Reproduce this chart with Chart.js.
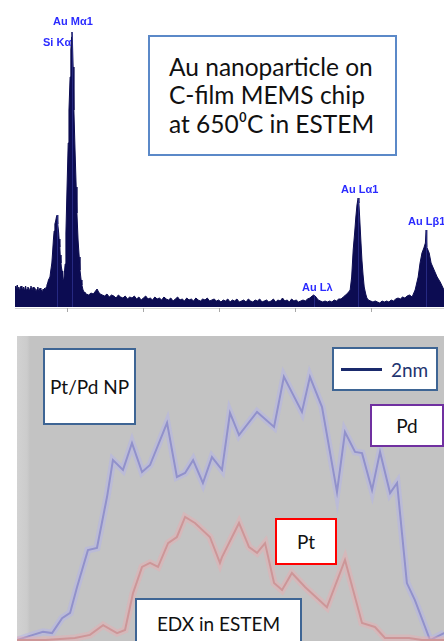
<!DOCTYPE html>
<html><head><meta charset="utf-8">
<script src="https://cdn.jsdelivr.net/npm/chart.js@4.4.1/dist/chart.umd.min.js"></script>
<style>
body{margin:0;width:444px;height:641px;position:relative;overflow:hidden;background:#fff;font-family:Lato,"Open Sans",sans-serif}
.pk{position:absolute;color:#2b2bff;font:bold 11px "Liberation Sans",Arial,sans-serif;white-space:nowrap;line-height:12px}
.box{position:absolute;background:#fff;box-sizing:border-box;display:flex;align-items:center;justify-content:center;color:#111;font-size:19px;border:2px solid #3e6594}
</style></head><body>
<canvas id="spectrum" width="444" height="312" style="position:absolute;left:0;top:0"></canvas>
<div style="position:absolute;left:17px;top:336px;width:427px;height:305px;background:linear-gradient(to right,#d2d2d2 0,#cccccc 10px,#c3c3c3 13px,#c3c3c3 100%)">
  <canvas id="profile" width="427" height="305"></canvas>
</div>

<div class="pk" style="left:53px;top:15px">Au Mα1</div>
<div class="pk" style="left:43px;top:36px">Si Kα</div>
<div class="pk" style="left:341px;top:183px">Au Lα1</div>
<div class="pk" style="left:408px;top:215px">Au Lβ1</div>
<div class="pk" style="left:302px;top:281px">Au Lλ</div>

<div class="box" style="left:148px;top:35px;width:249px;height:121px;border-color:#5b89c8;justify-content:flex-start;padding-left:19px;font-size:24.5px;line-height:28.5px">
  <div>Au nanoparticle on<br>C-film MEMS chip<br>at 650⁰C in ESTEM</div>
</div>

<div class="box" style="left:43px;top:348px;width:93px;height:77px">Pt/Pd NP</div>
<div class="box" style="left:332px;top:347px;width:106px;height:44px;justify-content:flex-start;color:#1f3470">
  <span style="display:inline-block;width:41px;height:3px;background:#1a2a6c;margin-left:7px;margin-right:9px"></span>2nm
</div>
<div class="box" style="left:370px;top:404px;width:74px;height:43px;border-color:#7030a0">Pd</div>
<div class="box" style="left:275px;top:518px;width:62px;height:47px;border-color:#ff0000">Pt</div>
<div class="box" style="left:135px;top:598px;width:167px;height:60px;align-items:flex-start;padding-top:12px">EDX in ESTEM</div>

<script>
// EDX spectrum (energy in keV, counts)
const energies = [
  0.62,0.64,0.66,0.68,0.70,0.72,0.74,0.76,0.78,0.80,0.82,0.84,0.86,0.88,0.90,0.92,0.94,0.96,0.98,1.00,
  1.02,1.04,1.06,1.08,1.10,1.12,1.14,1.16,1.18,1.20,1.22,1.24,1.26,1.28,1.30,1.32,1.34,1.36,1.38,1.40,
  1.42,1.44,1.46,1.48,1.50,
  1.54,1.56,1.59,1.61,1.63,1.65,1.67,1.69,1.71,1.73,1.74,1.75,1.77,1.78,1.80,1.81,1.83,1.84,1.86,1.87,1.88,1.90,1.91,
  1.94,1.96,1.99,2.02,2.04,2.07,2.09,2.11,2.12,2.13,2.15,2.17,2.20,2.23,2.25,2.28,2.31,2.33,2.36,2.38,2.41,2.44,2.46,
  2.50,2.56,2.62,2.68,2.74,2.78,2.82,2.86,2.92,2.98,3.04,3.10,3.16,3.22,3.28,3.34,3.40,3.46,3.52,3.58,
  3.64,3.70,3.76,3.82,3.88,3.94,4.00,4.06,4.12,4.18,4.24,4.30,4.36,4.42,4.48,4.54,4.60,4.66,4.72,4.78,
  4.84,4.90,4.96,5.02,5.08,5.14,5.20,5.26,5.32,5.38,5.44,5.50,5.56,5.62,5.68,5.74,5.80,5.86,5.92,5.98,6.04,
  6.10,6.16,6.22,6.28,6.34,6.40,6.46,6.52,6.58,6.64,6.70,6.76,6.82,6.88,6.94,7.00,7.06,7.12,7.18,7.24,
  7.30,7.36,7.42,7.48,7.54,7.60,7.66,7.72,7.78,7.84,7.90,7.96,8.02,8.08,8.14,8.20,8.26,8.32,8.38,8.44,
  8.48,8.52,8.56,8.60,8.66,8.72,8.78,8.84,8.90,8.96,9.02,9.08,9.14,9.20,9.26,9.32,9.38,9.44,9.48,9.52,
  9.56,9.59,9.62,9.65,9.67,9.69,9.72,9.75,9.78,9.81,9.85,9.88,9.92,9.98,10.04,10.10,10.16,10.22,10.28,10.34,
  10.40,10.46,10.52,10.58,10.64,10.70,10.76,10.82,10.88,10.94,11.00,11.04,11.07,11.15,11.23,11.28,11.33,11.38,11.42,11.44,
  11.45,11.46,11.52,11.57,11.65,11.73,11.81,11.91
];
const counts = [
  21,17,19,22,18,20,16,19,21,17,18,20,17,19,21,16,18,20,18,16,
  19,21,17,18,20,16,19,17,15,18,20,16,17,19,15,17,14,18,16,19,
  17,20,22,24,27,
  30,36,44,55,67,76,83,86,90,92,88,83,74,68,60,52,44,40,36,31,28,27,30,
  43,74,120,164,197,230,257,270,275,268,240,197,157,120,94,67,50,37,27,22,17,15,14,
  13,12,14,13,16,18,15,13,12,11,13,10,12,11,9,12,10,9,11,8,
  10,9,11,8,10,7,9,11,8,9,7,10,8,9,7,10,8,7,9,6,
  8,10,7,8,6,9,7,8,6,9,7,6,8,7,9,6,7,8,6,7,5,
  7,6,8,5,7,6,8,5,6,7,5,8,6,5,7,6,8,5,6,7,
  5,6,8,5,7,6,9,6,7,5,8,6,7,5,6,7,6,8,9,11,
  12,11,9,7,6,5,6,5,6,5,7,6,8,8,10,12,14,17,30,57,
  75,90,102,109,104,90,68,47,32,20,13,9,7,6,5,6,5,4,6,5,
  6,5,7,6,8,9,8,10,9,11,12,11,10,17,30,44,54,59,64,77,
  66,60,54,44,37,30,25,17
];
const peakNames = ['Si Kα','Au Mα1','Au Lλ','Au Lα1','Au Lβ1'];
const peakEnergies = [1.73,2.12,8.48,9.65,11.44];
const peakCounts = [92,275,12,109,77];
const tickEnergies = [2,4,6,8,10];

// line profile across the particle (position in nm, intensity)
const pdPos = [0,0.78,1.27,1.71,2.20,2.59,2.93,3.46,3.90,4.39,4.68,5.17,5.61,6.10,6.49,7.32,7.80,8.20,8.59,9.07,
  9.51,10.0,10.39,10.83,11.71,12.54,13.02,13.90,14.29,14.88,15.61,16.0,16.49,16.83,17.32,17.71,18.20,18.54,19.02,19.41,20.15,20.83];
const pdVal = [0.3,2.0,3.0,2.6,7.5,9.2,17.7,29.8,30.5,47.2,59.3,56.1,64.9,55.4,57.7,71.5,53.8,55.1,59.3,51.8,
  60.3,56.1,74.8,67.5,75.1,70.2,86.6,75.1,86.6,76.7,48.9,68.5,62.0,61.6,49.5,62.0,48.5,51.8,19.0,13.4,0.3,2.6];
const ptPos = [0,1.37,2.83,3.56,4.20,4.88,5.27,5.66,6.10,6.49,6.88,7.37,7.80,8.20,8.68,9.41,9.90,10.0,10.83,11.32,
  11.71,12.10,12.54,12.93,13.41,14.05,15.12,16.0,16.83,17.46,17.95,19.12,19.76,20.83];
const ptVal = [0.3,0.3,1.0,2.0,5.2,2.6,3.6,15.7,24.3,25.6,24.3,32.1,34.1,40.7,38.7,34.1,25.6,27.5,38.7,30.8,
  28.9,32.1,19.0,16.7,22.3,17.7,11.1,26.6,5.9,4.6,1.0,1.0,0.3,0.3];

const toXY = (xs, ys) => xs.map((x, i) => ({x: x, y: ys[i]}));

const spectrumAxis = {
  id: 'spectrumAxis',
  afterDatasetsDraw(chart) {
    const ctx = chart.ctx, xs = chart.scales.x, ys = chart.scales.y, a = chart.chartArea;
    ctx.save();
    ctx.strokeStyle = 'rgba(60,65,170,0.55)';
    ctx.lineWidth = 1;
    peakEnergies.forEach((e, i) => {
      const px = Math.round(xs.getPixelForValue(e)) + 0.5;
      ctx.beginPath();
      ctx.moveTo(px, a.bottom);
      ctx.lineTo(px, ys.getPixelForValue(peakCounts[i]));
      ctx.stroke();
    });
    ctx.strokeStyle = '#d4d4d4';
    ctx.beginPath();
    ctx.moveTo(a.left, a.bottom + 1.5);
    ctx.lineTo(a.right, a.bottom + 1.5);
    ctx.stroke();
    ctx.strokeStyle = '#a8a8a8';
    tickEnergies.forEach(e => {
      const px = Math.round(xs.getPixelForValue(e)) + 0.5;
      ctx.beginPath();
      ctx.moveTo(px, a.bottom + 1);
      ctx.lineTo(px, a.bottom + 5);
      ctx.stroke();
    });
    ctx.restore();
  }
};

new Chart(document.getElementById('spectrum'), {
  type: 'line',
  data: {
    datasets: [{
      data: toXY(energies, counts),
      fill: 'origin',
      backgroundColor: '#0c0c52',
      borderColor: '#0c0c52',
      borderWidth: 1,
      pointRadius: 0,
      tension: 0
    }]
  },
  options: {
    responsive: false,
    animation: false,
    layout: {padding: {left: 15, top: 7, right: 0, bottom: 5}},
    plugins: {legend: {display: false}, tooltip: {enabled: false}},
    scales: {
      x: {type: 'linear', min: 0.62, max: 11.91, display: false},
      y: {min: 0, max: 300, display: false}
    }
  },
  plugins: [spectrumAxis]
});

new Chart(document.getElementById('profile'), {
  type: 'line',
  data: {
    datasets: [
      {data: toXY(ptPos, ptVal), borderColor: 'rgba(235,170,175,0.45)', borderWidth: 7, pointRadius: 0, tension: 0},
      {data: toXY(ptPos, ptVal), borderColor: '#b48686', borderWidth: 2, pointRadius: 0, tension: 0},
      {data: toXY(pdPos, pdVal), borderColor: 'rgba(180,180,235,0.5)', borderWidth: 7, pointRadius: 0, tension: 0},
      {data: toXY(pdPos, pdVal), borderColor: '#6e6eaa', borderWidth: 2, pointRadius: 0, tension: 0}
    ]
  },
  options: {
    responsive: false,
    animation: false,
    layout: {padding: 0},
    plugins: {legend: {display: false}, tooltip: {enabled: false}},
    scales: {
      x: {type: 'linear', min: 0, max: 20.83, display: false},
      y: {min: 0, max: 100, display: false}
    }
  }
});
</script>
</body></html>
